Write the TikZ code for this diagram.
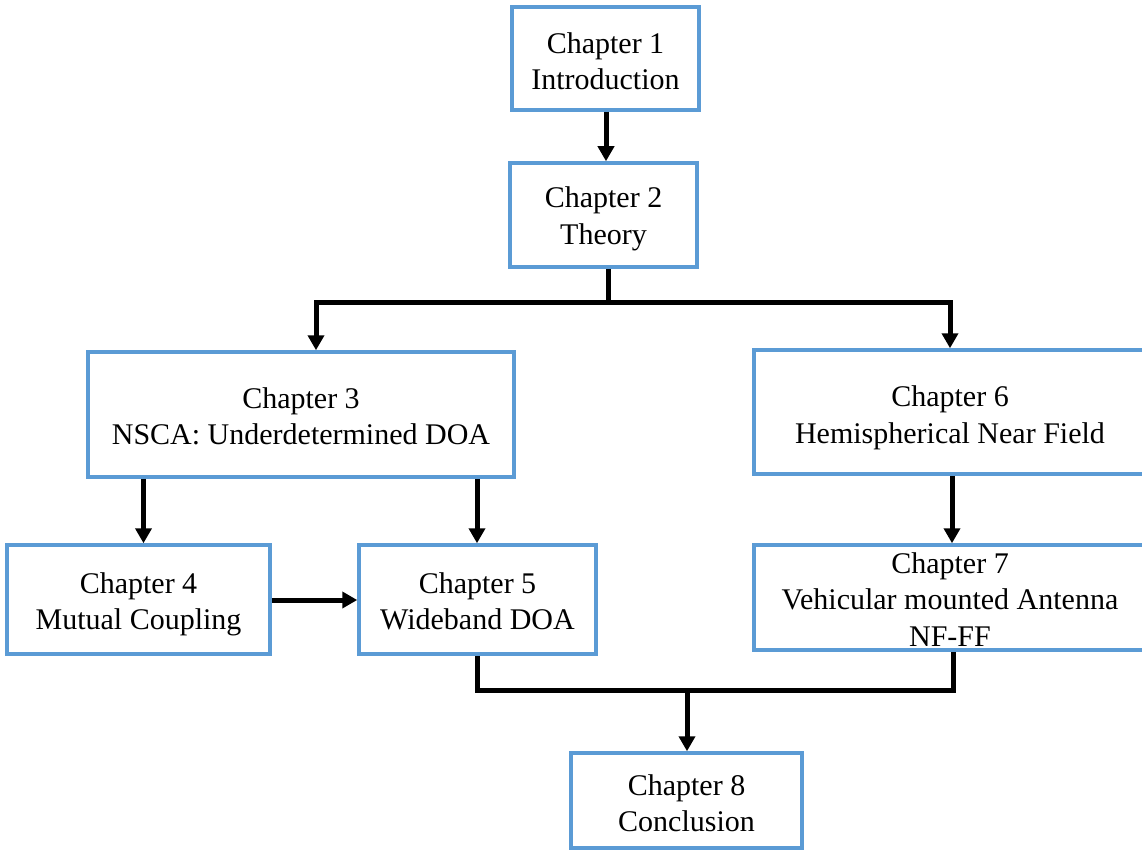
\documentclass[tikz,border=0pt]{standalone}
\usepackage{fontspec}
\setmainfont{Liberation Serif}
\usetikzlibrary{arrows.meta}
\definecolor{boxblue}{HTML}{5B9BD5}
\newcommand{\dn}[1]{\rule{0pt}{#1pt}}
\tikzset{
  chap/.style={draw=boxblue, line width=3.5pt, rectangle, inner sep=0pt, align=center,
    font=\fontsize{30}{36.5}\selectfont, text=black, fill=white},
  conn/.style={line width=5pt, draw=black, line join=miter},
  arr/.style={conn, -{Triangle[width=16pt,length=15pt]}},
}
\begin{document}
\begin{tikzpicture}[x=1pt,y=-1pt]
\useasboundingbox (0,0) rectangle (1142,850);
\node[chap, minimum width=187pt, minimum height=103pt] (b1) at (605.5,58.5) {\dn{26.5}Chapter 1\\Introduction};
\node[chap, minimum width=187pt, minimum height=104pt] (b2) at (603.5,215) {\dn{28.5}Chapter 2\\Theory};
\node[chap, minimum width=426pt, minimum height=125pt] (b3) at (301,414.5) {\dn{24.5}Chapter 3\\NSCA: Underdetermined DOA};
\node[chap, minimum width=392pt, minimum height=124pt] (b6) at (950,412) {\dn{32.5}Chapter 6\\Hemispherical Near Field};
\node[chap, minimum width=263pt, minimum height=109pt] (b4) at (138.5,599.5) {\dn{30.5}Chapter 4\\Mutual Coupling};
\node[chap, minimum width=237pt, minimum height=109pt] (b5) at (477.5,599.5) {\dn{24.5}Chapter 5\\Wideband DOA};
\node[chap, minimum width=392pt, minimum height=105pt] (b7) at (950,597.5) {\dn{24.5}Chapter 7\\Vehicular mounted Antenna\\NF-FF};
\node[chap, minimum width=231pt, minimum height=95pt] (b8) at (686.5,800.5) {\dn{26.5}Chapter 8\\Conclusion};

\coordinate (j1) at (608,302);
\coordinate (l3) at (316,302);
\coordinate (r6) at (950,302);
\coordinate (a4) at (143.5,477);
\coordinate (a5) at (477,477);
\coordinate (a7) at (952,474);
\coordinate (j2) at (687,690);
\coordinate (l5) at (477,690);
\coordinate (r7) at (953,690);

\draw[arr] (b1.south -| 606,0) -- (606,0 |- b2.north);
\draw[conn] (b2.south -| j1) -- (j1);
\draw[arr] (j1) -- (l3) -- (l3 |- b3.north);
\draw[arr] (j1) -- (r6) -- (r6 |- b6.north);
\draw[arr] (b3.south -| a4) -- (a4 |- b4.north);
\draw[arr] (b3.south -| a5) -- (a5 |- b5.north);
\draw[arr] (b4.east |- 0,600) -- (b5.west |- 0,600);
\draw[arr] (b6.south -| a7) -- (a7 |- b7.north);
\draw[conn] (b5.south -| l5) -- (l5) -- (r7) -- (r7 |- b7.south);
\draw[arr] (j2) -- (j2 |- b8.north);
\end{tikzpicture}
\end{document}
